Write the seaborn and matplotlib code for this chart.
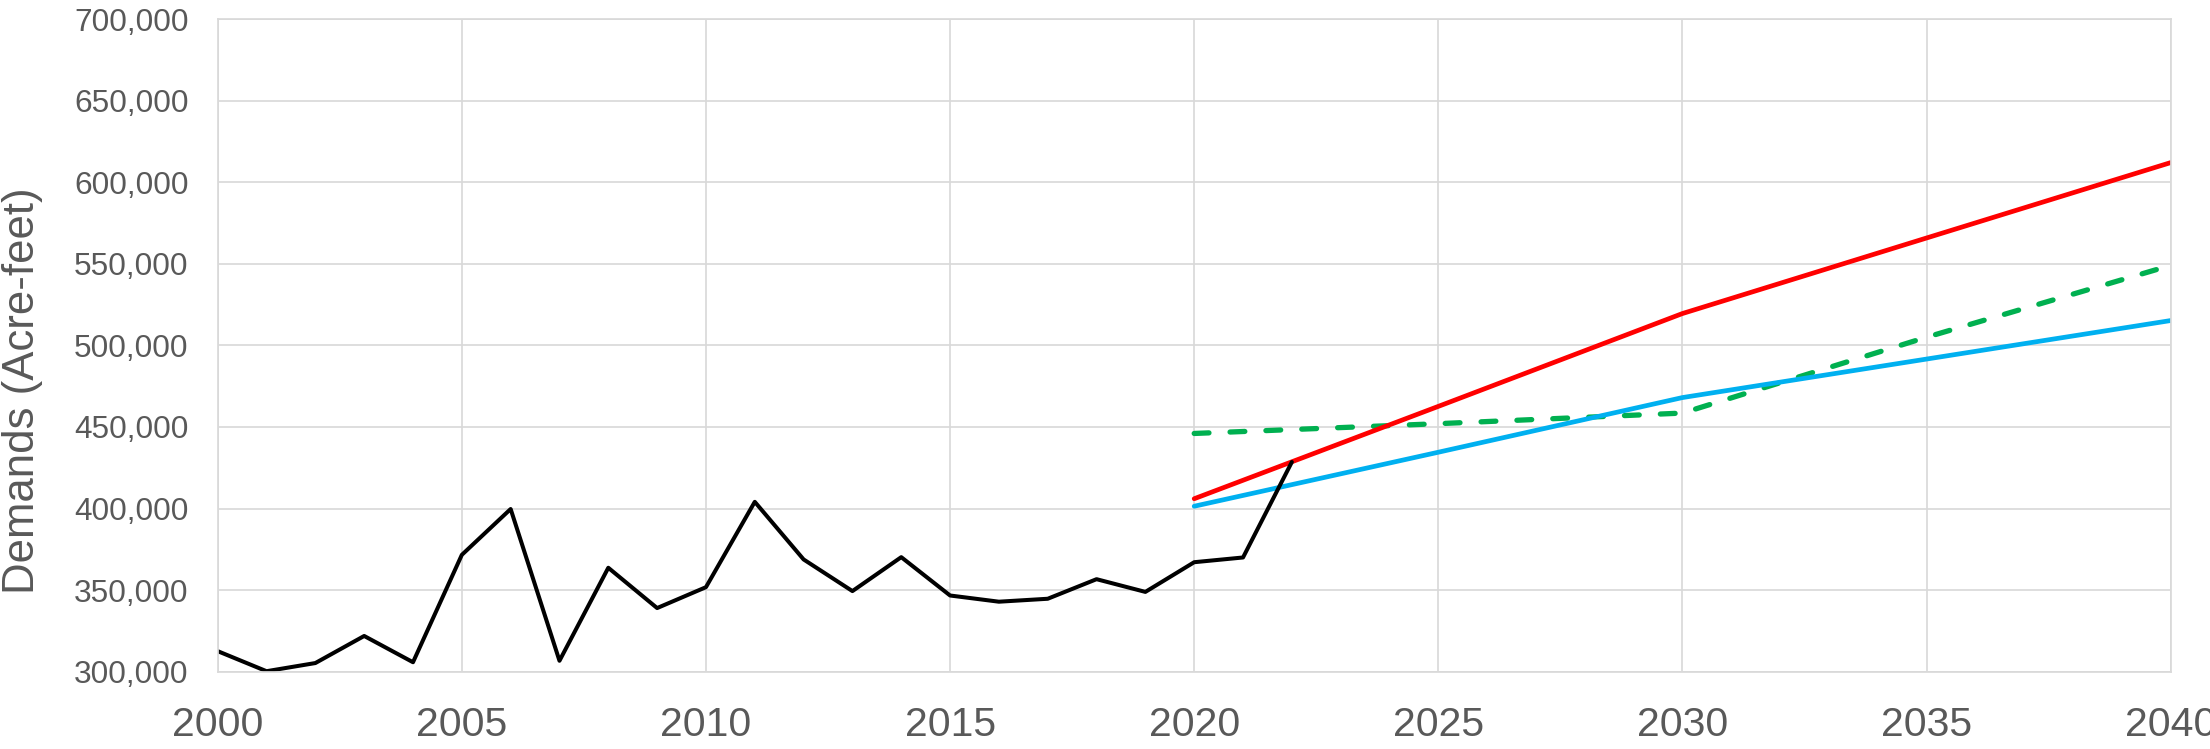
import pandas as pd
import seaborn as sns
import matplotlib.pyplot as plt
from matplotlib.ticker import FuncFormatter

# historical demands (acre-feet)
hist_years = list(range(2000, 2023))
hist_demand = [312600, 300300, 305300, 321900, 305800, 371600, 399700, 306700,
               363700, 339000, 351800, 404100, 368800, 349400, 370200, 346700,
               342900, 344700, 356700, 348900, 367100, 370000, 428500]

# projections
proj_years = [2020, 2025, 2030, 2035, 2040]
red_proj = [406000, 462600, 519500, 565800, 612000]
blue_proj = [401400, 434500, 468000, 491600, 515200]
green_proj = [446000, 452000, 458500, 505000, 549000]

sns.set_style("whitegrid")
plt.rcParams['font.family'] = ['Liberation Sans', 'DejaVu Sans']

W, H = 2210, 749
L, R, T, B = 217.7, 2170.7, 19, 671.7
fig = plt.figure(figsize=(W / 100, H / 100), dpi=100)
ax = fig.add_axes([L / W, 1 - B / H, (R - L) / W, (B - T) / H])

hist = pd.DataFrame({'year': hist_years, 'demand': hist_demand})
proj = pd.DataFrame({'year': proj_years, 'red': red_proj, 'blue': blue_proj, 'green': green_proj})

sns.lineplot(data=proj, x='year', y='green', ax=ax, color='#00B050', lw=3.8,
             linestyle=(0, (2.8, 4.0)), dash_capstyle='round')
sns.lineplot(data=proj, x='year', y='blue', ax=ax, color='#00B0F0', lw=3.4)
sns.lineplot(data=proj, x='year', y='red', ax=ax, color='#FF0000', lw=3.4)
sns.lineplot(data=hist, x='year', y='demand', ax=ax, color='black', lw=2.9)

ax.set_xlim(2000, 2040)
ax.set_ylim(300000, 700000)
ax.set_xticks(range(2000, 2041, 5))
ax.set_yticks(range(300000, 700001, 50000))
ax.yaxis.set_major_formatter(FuncFormatter(lambda v, p: f'{int(v):,}'))

ax.grid(True, color='#D9D9D9', lw=1.25)
for s in ax.spines.values():
    s.set_color('#D9D9D9')
    s.set_linewidth(1.25)

ax.tick_params(axis='y', length=0, pad=21, labelsize=22.8, labelcolor='#595959')
ax.tick_params(axis='x', length=0, pad=25, labelsize=29.5, labelcolor='#595959')

ax.set_xlabel('')
ax.set_ylabel('Demands (Acre-feet)', fontsize=31.5, color='#595959', va='center')
ax.yaxis.set_label_coords(-0.0997, 0.43)

fig.savefig('out.png', dpi=100)
